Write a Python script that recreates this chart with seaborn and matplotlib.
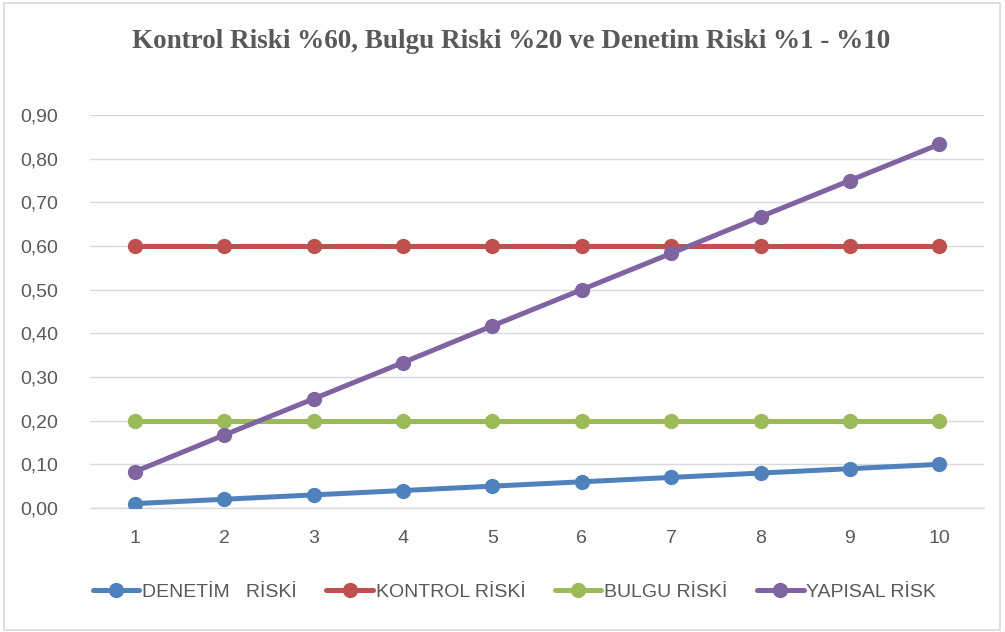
import numpy as np
import pandas as pd
import matplotlib
matplotlib.use("Agg")
import matplotlib.pyplot as plt
import seaborn as sns
from matplotlib.ticker import FuncFormatter
from matplotlib.patches import Rectangle

# Data
periods = [1, 2, 3, 4, 5, 6, 7, 8, 9, 10]
denetim_riski = [0.01, 0.02, 0.03, 0.04, 0.05, 0.06, 0.07, 0.08, 0.09, 0.10]
kontrol_riski = [0.60, 0.60, 0.60, 0.60, 0.60, 0.60, 0.60, 0.60, 0.60, 0.60]
bulgu_riski = [0.20, 0.20, 0.20, 0.20, 0.20, 0.20, 0.20, 0.20, 0.20, 0.20]
yapisal_risk = [0.083, 0.167, 0.250, 0.333, 0.417, 0.500, 0.583, 0.667, 0.750, 0.833]
series_names = ["DENETİM   RİSKİ", "KONTROL RİSKİ", "BULGU RİSKİ", "YAPISAL RİSK"]
y_ticks = [0.0, 0.1, 0.2, 0.3, 0.4, 0.5, 0.6, 0.7, 0.8, 0.9]
title = "Kontrol Riski %60, Bulgu Riski %20 ve Denetim Riski %1 - %10"

df = pd.DataFrame({
    "x": periods * 4,
    "value": denetim_riski + kontrol_riski + bulgu_riski + yapisal_risk,
    "series": sum([[n] * len(periods) for n in series_names], []),
})

colors = ["#4F81BD", "#C0504D", "#9BBB59", "#8064A2"]
palette = dict(zip(series_names, colors))

sns.set_theme(style="white")
plt.rcParams["font.family"] = ["Liberation Sans", "DejaVu Sans"]

fig = plt.figure(figsize=(10.05, 6.32), dpi=100)
fig.patch.set_facecolor("white")
ax = fig.add_axes([90 / 1005, 1 - 508 / 632, (984 - 90) / 1005, (508 - 115) / 632])

sns.lineplot(data=df, x="x", y="value", hue="series", palette=palette,
             marker="o", markersize=11, markeredgewidth=0, linewidth=3.6,
             ax=ax, legend=False, zorder=3)

ax.set_xlim(0.5, 10.5)
ax.set_ylim(0, 0.9)
ax.set_xticks(periods)
ax.set_yticks(y_ticks)
ax.yaxis.set_major_formatter(FuncFormatter(lambda v, _: f"{v:.2f}".replace(".", ",")))
ax.grid(axis="y", color="#D9D9D9", linewidth=1)
ax.set_axisbelow(True)
for side in ["left", "right", "top"]:
    ax.spines[side].set_visible(False)
ax.spines["bottom"].set_color("#D9D9D9")
ax.spines["bottom"].set_linewidth(1)
ax.tick_params(axis="both", length=0, labelsize=14, colors="#595959")
ax.tick_params(axis="x", pad=16)
ax.tick_params(axis="y", pad=23)
ax.set_xlabel("")
ax.set_ylabel("")

fig.text(0.509, 1 - 42 / 632, title, ha="center", va="center",
         fontsize=19.5, fontweight="bold", color="#595959",
         family=["Liberation Serif", "DejaVu Serif"])

handles = [plt.Line2D([], [], color=c, linewidth=3.6, marker="o", markersize=11,
                      markeredgewidth=0) for c in colors]
fig.legend(handles, series_names, loc="center", bbox_to_anchor=(0.512, 1 - 592 / 632),
           ncol=4, frameon=False, fontsize=14, labelcolor="#595959",
           handlelength=2.4, handletextpad=0.15, columnspacing=1.5)

fig.add_artist(Rectangle((4 / 1005, 2 / 632), 996 / 1005, 627 / 632,
                         transform=fig.transFigure, fill=False,
                         edgecolor="#D9D9D9", linewidth=1.2))

fig.savefig("out.png", dpi=100, facecolor="white")
